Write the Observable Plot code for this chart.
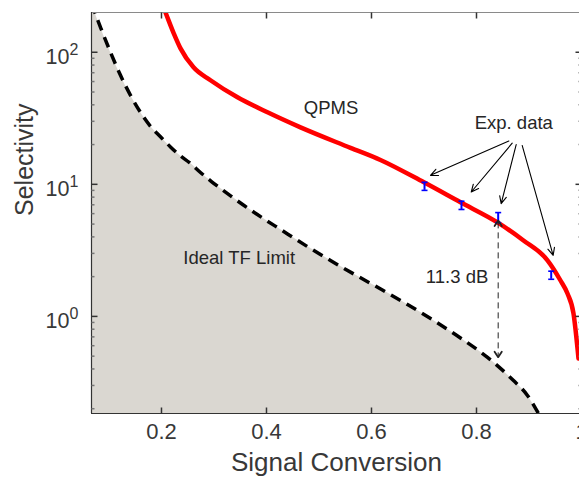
<!DOCTYPE html>
<html>
<head>
<meta charset="utf-8">
<script src="https://cdn.jsdelivr.net/npm/d3@7"></script>
<script src="https://cdn.jsdelivr.net/npm/@observablehq/plot@0.6"></script>
<style>
html, body { margin: 0; padding: 0; background: #fff; overflow: hidden; }
#chart { width: 579px; height: 485px; overflow: hidden; }
#chart svg { max-width: none !important; }
</style>
</head>
<body>
<div id="chart"></div>
<script>
// ---- data ----
const qpmsX = [0.198, 0.2076, 0.2235, 0.2362, 0.2610, 0.2933, 0.3448, 0.4019, 0.4648, 0.5600, 0.6171, 0.6990, 0.7695, 0.8400, 0.8895, 0.9352, 0.9600, 0.9733, 0.9848, 0.9943];
const qpmsY = [248, 200, 138.6, 107, 76.9, 61.4, 45.6, 35.1, 27.0, 18.9, 15.3, 10.4, 7.31, 5.15, 3.76, 2.66, 1.87, 1.49, 1.05, 0.48];

const limitX = [0.0667, 0.0743, 0.0838, 0.1029, 0.1219, 0.1410, 0.1600, 0.1790, 0.1981, 0.2171, 0.2362, 0.2533, 0.2743, 0.2952, 0.3162, 0.3381, 0.3819, 0.4295, 0.4743, 0.5219, 0.5695, 0.6200, 0.6686, 0.7181, 0.7695, 0.8210, 0.8457, 0.8705, 0.8971, 0.9181];
const limitY = [235, 194, 154.6, 100, 66.9, 47.2, 35.1, 27.5, 22.9, 19.2, 16.4, 14.6, 12.3, 10.5, 9.08, 7.83, 5.93, 4.48, 3.45, 2.65, 2.06, 1.59, 1.23, 0.933, 0.687, 0.489, 0.404, 0.327, 0.252, 0.184];

const expX = [0.701, 0.7714, 0.8413, 0.9423];
const expY = [9.66, 6.93, 5.60, 2.05];
const expLow = [9.0, 6.45, 5.13, 1.91];
const expHigh = [10.36, 7.45, 6.11, 2.20];

// annotation arrows (Exp. data)
const arrowX1 = [0.8616, 0.868, 0.8756, 0.887];
const arrowY1 = [21.3, 20.5, 20.0, 19.7];
const arrowX2 = [0.7124, 0.790, 0.847, 0.946];
const arrowY2 = [11.7, 8.75, 7.14, 2.90];

// 11.3 dB gap arrow
const gapX = [0.8413];
const gapTop = [5.15];
const gapBottom = [0.507];

// labels
const labelText = ["QPMS", "Exp. data", "Ideal TF Limit", "11.3 dB"];
const labelX = [0.523, 0.871, 0.348, 0.763];
const labelY = [37.7, 28.97, 2.75, 1.99];

const xTicks = [0.2, 0.4, 0.6, 0.8, 1.0];
const xTickLabels = ["0.2", "0.4", "0.6", "0.8", "1"];
const yTicks = [1, 10, 100];
const yTickBase = ["10", "10", "10"];
const yTickExponents = ["0", "1", "2"];
const yMinorTicks = [0.2, 0.3, 0.4, 0.5, 0.6, 0.7, 0.8, 0.9, 2, 3, 4, 5, 6, 7, 8, 9, 20, 30, 40, 50, 60, 70, 80, 90];

const xDomain = [0.0667, 1.0];
const yDomain = [0.184, 200];

// ---- tables built from the arrays ----
const qpms = qpmsX.map((x, i) => ({x, y: qpmsY[i]}));
const limit = limitX.map((x, i) => ({x, y: limitY[i]}));
const exp = expX.map((x, i) => ({x, y: expY[i], lo: expLow[i], hi: expHigh[i]}));
const arrows = arrowX1.map((x1, i) => ({x1, y1: arrowY1[i], x2: arrowX2[i], y2: arrowY2[i]}));
const gap = gapX.map((x, i) => ({x, y1: gapTop[i], y2: gapBottom[i]}));
const labels = labelText.map((t, i) => ({t, x: labelX[i], y: labelY[i]}));
const yTickRows = yTicks.map((v, i) => ({v, base: yTickBase[i], exp: yTickExponents[i]}));

// custom tick / cap symbols
const sym = (x1, y1, x2, y2) => ({draw(c) { c.moveTo(x1, y1); c.lineTo(x2, y2); }});
const tickUp = sym(0, 0, 0, -6);
const tickDown = sym(0, 0, 0, 6);
const tickRight = sym(0, 0, 6, 0);
const tickLeft = sym(0, 0, -6, 0);
const minorRight = sym(0, 0, 3, 0);
const minorLeft = sym(0, 0, -3, 0);
const cap = sym(-3, 0, 3, 0);

const FONT = "'Liberation Sans', Arial, Helvetica, sans-serif";
const axisColor = "#333";

const chart = Plot.plot({
  width: 600,
  height: 485,
  marginLeft: 91,
  marginRight: 19,
  marginTop: 12,
  marginBottom: 72,
  style: {fontFamily: FONT, background: "#fff", maxWidth: "none"},
  x: {domain: xDomain, axis: null},
  y: {type: "log", domain: yDomain, axis: null},
  marks: [
    Plot.areaY(limit, {x: "x", y1: yDomain[0], y2: "y", fill: "#dad7d1", curve: "monotone-x", clip: true}),
    Plot.line(limit, {x: "x", y: "y", stroke: "#000", strokeWidth: 3.5, strokeDasharray: "11,7", strokeLinecap: "butt", curve: "monotone-x", clip: true}),
    Plot.line(qpms, {x: "x", y: "y", stroke: "#ff0000", strokeWidth: 4.5, curve: "monotone-x", clip: true}),
    // error bars
    Plot.ruleX(exp, {x: "x", y1: "lo", y2: "hi", stroke: "#0000ff", strokeWidth: 2}),
    Plot.dot(exp, {x: "x", y: "lo", symbol: cap, fill: "none", stroke: "#0000ff", strokeWidth: 1.6}),
    Plot.dot(exp, {x: "x", y: "hi", symbol: cap, fill: "none", stroke: "#0000ff", strokeWidth: 1.6}),
    // annotation arrows
    Plot.arrow(arrows, {x1: "x1", y1: "y1", x2: "x2", y2: "y2", stroke: "#000", strokeWidth: 1.1, headLength: 11, headAngle: 50}),
    Plot.link(gap, {x1: "x", y1: "y1", x2: "x", y2: "y2", stroke: "#222", strokeWidth: 1, strokeDasharray: "6,4", markerStart: "arrow-reverse", markerEnd: "arrow"}),
    // labels
    Plot.text(labels, {x: "x", y: "y", text: "t", fontSize: 18.5, fill: "#262626"}),
    // frame
    Plot.ruleY([yDomain[1]], {stroke: "#8a8a8a", strokeWidth: 1}),
    Plot.ruleY([yDomain[0]], {stroke: axisColor, strokeWidth: 1.2}),
    Plot.ruleX([xDomain[0]], {stroke: axisColor, strokeWidth: 1.2}),
    Plot.ruleX([xDomain[1]], {stroke: axisColor, strokeWidth: 1}),
    // ticks (inward)
    Plot.dot(xTicks, {x: d => d, frameAnchor: "bottom", symbol: tickUp, fill: "none", stroke: axisColor}),
    Plot.dot(xTicks, {x: d => d, frameAnchor: "top", symbol: tickDown, fill: "none", stroke: axisColor}),
    Plot.dot(yTicks, {y: d => d, frameAnchor: "left", symbol: tickRight, fill: "none", stroke: axisColor}),
    Plot.dot(yTicks, {y: d => d, frameAnchor: "right", symbol: tickLeft, fill: "none", stroke: axisColor}),
    Plot.dot(yMinorTicks, {y: d => d, frameAnchor: "left", symbol: minorRight, fill: "none", stroke: "#777"}),
    Plot.dot(yMinorTicks, {y: d => d, frameAnchor: "right", symbol: minorLeft, fill: "none", stroke: "#777"}),
    // tick labels
    Plot.text(xTicks, {x: d => d, frameAnchor: "bottom", text: (d, i) => xTickLabels[i], dy: 25, fontSize: 22, fill: "#383838"}),
    Plot.text(yTickRows, {y: "v", frameAnchor: "left", text: "base", textAnchor: "end", dx: -22, dy: 5, fontSize: 21.5, fill: "#383838"}),
    Plot.text(yTickRows, {y: "v", frameAnchor: "left", text: "exp", textAnchor: "start", dx: -22, dy: -2.5, fontSize: 16, fill: "#383838"}),
    // axis labels
    Plot.text(["Signal Conversion"], {frameAnchor: "bottom", text: d => d, dy: 57, fontSize: 26, fill: "#383838"}),
    Plot.text(["Selectivity"], {frameAnchor: "left", text: d => d, rotate: -90, dx: -67, dy: 3, fontSize: 25, fill: "#383838"})
  ]
});

// enlarge the gap-arrow heads and keep them solid
chart.querySelectorAll("marker").forEach(m => {
  m.setAttribute("markerWidth", 12);
  m.setAttribute("markerHeight", 12);
  m.setAttribute("stroke-dasharray", "none");
  m.querySelectorAll("path").forEach(p => {
    p.setAttribute("d", "M-3,-3L1.5,0L-3,3");
    p.setAttribute("stroke-dasharray", "none");
  });
});

document.getElementById("chart").appendChild(chart);
</script>
</body>
</html>
